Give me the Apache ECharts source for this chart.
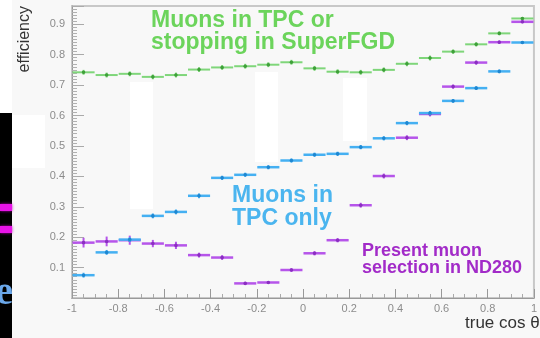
<!DOCTYPE html>
<html>
<head>
<meta charset="utf-8">
<script src="https://cdn.jsdelivr.net/npm/echarts@6/dist/echarts.min.js"></script>
<style>
  html, body { margin: 0; padding: 0; background: #f8f8f8; }
  #chart { width: 540px; height: 338px; }
</style>
</head>
<body>
<div id="chart"></div>
<script>
// Bin centres of true cos(theta), 20 bins of width 0.1 from -1 to 1
const binCenters = [-0.95, -0.85, -0.75, -0.65, -0.55, -0.45, -0.35, -0.25, -0.15, -0.05,
                     0.05,  0.15,  0.25,  0.35,  0.45,  0.55,  0.65,  0.75,  0.85,  0.95];
const binWidth = 0.1;

// Muons in TPC or stopping in SuperFGD
const effTpcOrFgd = [0.742, 0.733, 0.737, 0.727, 0.733, 0.751, 0.758, 0.762, 0.767, 0.775,
                     0.755, 0.744, 0.742, 0.750, 0.770, 0.789, 0.810, 0.834, 0.870, 0.919];
const errTpcOrFgd = [0.008, 0.008, 0.008, 0.008, 0.008, 0.008, 0.008, 0.008, 0.008, 0.008,
                     0.008, 0.008, 0.008, 0.008, 0.008, 0.008, 0.007, 0.007, 0.006, 0.005];

// Muons in TPC only
const effTpcOnly = [0.075, 0.150, 0.192, 0.270, 0.283, 0.336, 0.395, 0.405, 0.430, 0.452,
                    0.471, 0.474, 0.496, 0.525, 0.575, 0.608, 0.648, 0.690, 0.745, 0.840];
const errTpcOnly = [0.008, 0.008, 0.008, 0.008, 0.008, 0.008, 0.007, 0.007, 0.007, 0.007,
                    0.007, 0.007, 0.007, 0.007, 0.007, 0.007, 0.006, 0.006, 0.006, 0.005];

// Present muon selection in ND280
const effPresent = [0.182, 0.186, 0.190, 0.179, 0.173, 0.141, 0.133, 0.048, 0.051, 0.092,
                    0.147, 0.190, 0.305, 0.401, 0.527, 0.605, 0.695, 0.774, 0.841, 0.908];
const errPresent = [0.016, 0.016, 0.015, 0.012, 0.012, 0.008, 0.008, 0.005, 0.005, 0.006,
                    0.007, 0.007, 0.008, 0.008, 0.008, 0.008, 0.007, 0.007, 0.006, 0.005];

const xTickLabels = ['-1', '-0.8', '-0.6', '-0.4', '-0.2', '0', '0.2', '0.4', '0.6', '0.8', '1'];

function toData(vals, errs) {
  return binCenters.map((c, i) => [c, vals[i], errs[i]]);
}

// Histogram-style marker: horizontal bin segment, vertical error bar, centre dot
function binRenderer(color, dotColor, lineWidth) {
  return function (params, api) {
    const c = api.value(0), v = api.value(1), e = api.value(2);
    const half = binWidth / 2;
    const a = api.coord([c - half, v]);
    const b = api.coord([c + half, v]);
    const m = api.coord([c, v]);
    const top = api.coord([c, v + e]);
    const bot = api.coord([c, v - e]);
    return {
      type: 'group',
      children: [
        { type: 'line', shape: { x1: a[0] + 0.5, y1: a[1], x2: b[0] - 0.5, y2: b[1] },
          style: { stroke: color, lineWidth: lineWidth } },
        { type: 'line', shape: { x1: m[0], y1: top[1], x2: m[0], y2: bot[1] },
          style: { stroke: color, lineWidth: 2 } },
        { type: 'circle', shape: { cx: m[0], cy: m[1], r: 1.8 },
          style: { fill: dotColor } }
      ]
    };
  };
}

const chart = echarts.init(document.getElementById('chart'), null, { renderer: 'canvas' });

const tickColor = '#8c8c8c';

chart.setOption({
  backgroundColor: '#f8f8f8',
  animation: false,
  grid: {
    left: 72, right: 0, top: 6, bottom: 40,
    show: true, borderColor: '#c8c8c8', borderWidth: 2, backgroundColor: 'transparent'
  },
  xAxis: {
    type: 'value', min: -1, max: 1, interval: 0.2,
    axisLine: { onZero: false, lineStyle: { color: '#999', width: 1 } },
    axisTick: { inside: true, length: 9, lineStyle: { color: '#999' } },
    minorTick: { show: true, splitNumber: 4, length: 4, lineStyle: { color: '#aaa' } },
    splitLine: { show: false },
    axisLabel: {
      color: tickColor, fontSize: 11, fontFamily: 'Liberation Sans, Arial, sans-serif', margin: 5,
      formatter: function (v) {
        const k = Math.round((v + 1) / 0.2);
        return xTickLabels[k] !== undefined ? xTickLabels[k] : '';
      }
    }
  },
  yAxis: {
    type: 'value', min: 0, max: 0.96, interval: 0.1,
    axisLine: { show: true, onZero: false, lineStyle: { color: '#999', width: 1 } },
    axisTick: { inside: true, length: 12, lineStyle: { color: '#aaa' } },
    minorTick: { show: true, splitNumber: 10, length: 5, lineStyle: { color: '#b0b0b0' } },
    splitLine: { show: false },
    axisLabel: {
      color: tickColor, fontSize: 11, fontFamily: 'Liberation Sans, Arial, sans-serif', margin: 7,
      showMaxLabel: false,
      formatter: function (v) {
        if (v < 0.05 || v > 0.95) return '';
        return v.toFixed(1);
      }
    }
  },
  series: [
    {
      name: 'Muons in TPC or stopping in SuperFGD', type: 'custom',
      renderItem: binRenderer('#7fd67a', '#3f9f3a', 2),
      data: toData(effTpcOrFgd, errTpcOrFgd), z: 3
    },
    {
      name: 'Present muon selection in ND280', type: 'custom',
      renderItem: binRenderer('#b655ea', '#8a2fc0', 2.5),
      data: toData(effPresent, errPresent), z: 4
    },
    {
      name: 'Muons in TPC only', type: 'custom',
      renderItem: binRenderer('#45b0f2', '#1f86d0', 2.5),
      data: toData(effTpcOnly, errTpcOnly), z: 5
    }
  ],
  graphic: [
    // light panels over the plot area
    { type: 'rect', shape: { x: 130, y: 82, width: 23, height: 127 }, style: { fill: '#ffffff' }, z: 1 },
    { type: 'rect', shape: { x: 255, y: 72, width: 23, height: 90 }, style: { fill: '#ffffff' }, z: 1 },
    { type: 'rect', shape: { x: 343, y: 78, width: 24, height: 63 }, style: { fill: '#ffffff' }, z: 1 },
    // left margin strip
    { type: 'rect', shape: { x: 0, y: 0, width: 12, height: 113 }, style: { fill: '#ffffff' }, z: 1 },
    { type: 'rect', shape: { x: 0, y: 113, width: 12, height: 225 }, style: { fill: '#000000' }, z: 1 },
    { type: 'rect', shape: { x: 12, y: 115, width: 33, height: 53 }, style: { fill: '#ffffff' }, z: 1 },
    { type: 'rect', shape: { x: 0, y: 204, width: 12, height: 7 },
      style: { fill: '#e814e8', shadowBlur: 3, shadowColor: '#c000c0' }, z: 2 },
    { type: 'rect', shape: { x: 0, y: 226, width: 12, height: 7 },
      style: { fill: '#e814e8', shadowBlur: 3, shadowColor: '#c000c0' }, z: 2 },
    { type: 'text', x: 13, y: 314, z: 2,
      style: { text: 'e', fill: '#6aa7ea', font: 'bold 40px "Liberation Serif", serif',
               textAlign: 'right', textVerticalAlign: 'bottom' } },
    // axis titles
    { type: 'text', x: 25, y: 6, rotation: Math.PI / 2, z: 10,
      style: { text: 'efficiency', fill: '#333', font: '16px "Liberation Sans", Arial, sans-serif',
               textAlign: 'right', textVerticalAlign: 'middle' } },
    { type: 'text', x: 465, y: 323, z: 10,
      style: { text: 'true cos \u03b8', fill: '#333', font: '17px "Liberation Sans", Arial, sans-serif',
               textAlign: 'left', textVerticalAlign: 'middle' } },
    // annotations
    { type: 'text', x: 151, y: 21, z: 10,
      style: { text: 'Muons in TPC or', fill: '#6cd45c', font: 'bold 23px "Liberation Sans", Arial, sans-serif',
               textAlign: 'left', textVerticalAlign: 'middle' } },
    { type: 'text', x: 151, y: 43, z: 10,
      style: { text: 'stopping in SuperFGD', fill: '#6cd45c', font: 'bold 23px "Liberation Sans", Arial, sans-serif',
               textAlign: 'left', textVerticalAlign: 'middle' } },
    { type: 'text', x: 232, y: 196, z: 10,
      style: { text: 'Muons in', fill: '#4bb5ef', font: 'bold 23px "Liberation Sans", Arial, sans-serif',
               textAlign: 'left', textVerticalAlign: 'middle' } },
    { type: 'text', x: 232, y: 219, z: 10,
      style: { text: 'TPC only', fill: '#4bb5ef', font: 'bold 23px "Liberation Sans", Arial, sans-serif',
               textAlign: 'left', textVerticalAlign: 'middle' } },
    { type: 'text', x: 362, y: 251, z: 10,
      style: { text: 'Present muon', fill: '#a22bc8', font: 'bold 18px "Liberation Sans", Arial, sans-serif',
               textAlign: 'left', textVerticalAlign: 'middle' } },
    { type: 'text', x: 362, y: 268, z: 10,
      style: { text: 'selection in ND280', fill: '#a22bc8', font: 'bold 18px "Liberation Sans", Arial, sans-serif',
               textAlign: 'left', textVerticalAlign: 'middle' } }
  ]
});
</script>
</body>
</html>
